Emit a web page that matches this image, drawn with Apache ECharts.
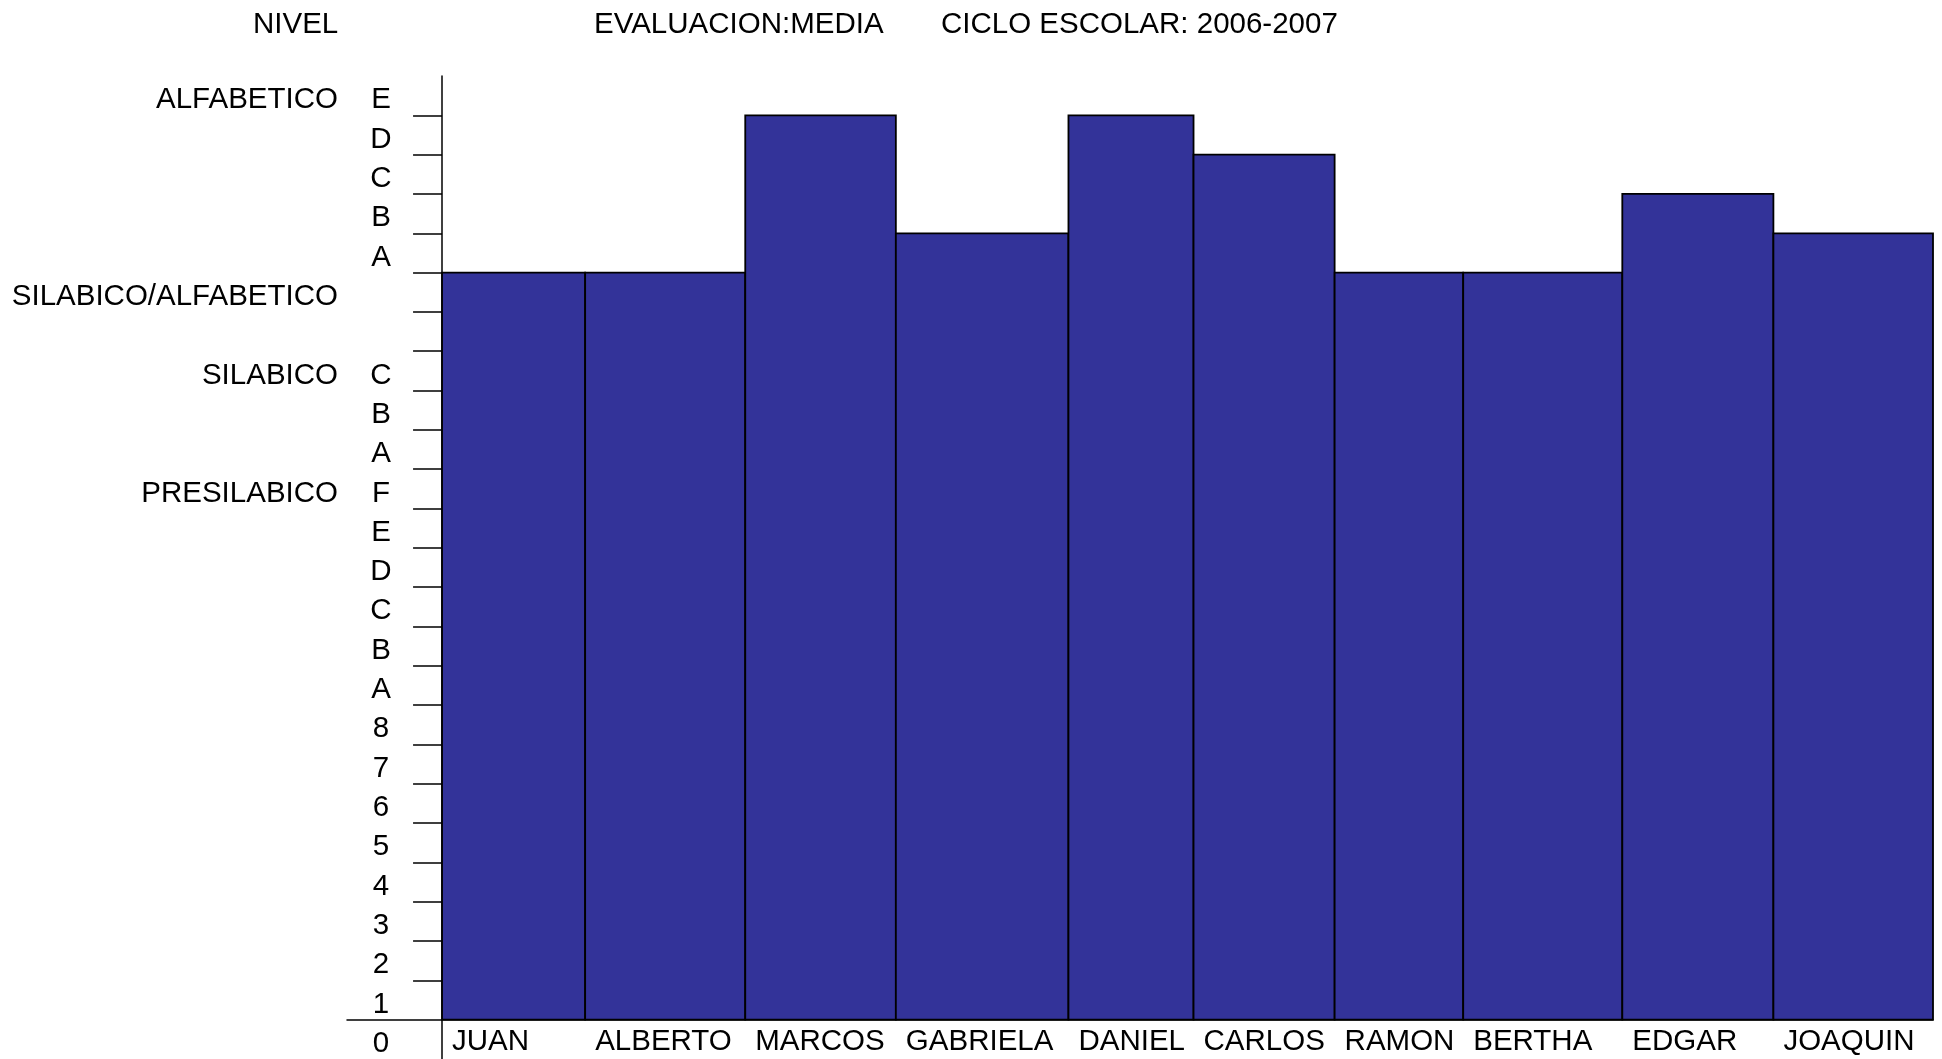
<!DOCTYPE html>
<html><head><meta charset="utf-8">
<script src="https://cdn.jsdelivr.net/npm/echarts@6/dist/echarts.min.js"></script>
<style>html,body{margin:0;padding:0;background:#fff}#c{width:1942px;height:1059px}</style>
</head><body><div id="c"></div>
<script>
// ---- data ----
const students = ['JUAN','ALBERTO','MARCOS','GABRIELA','DANIEL','CARLOS','RAMON','BERTHA','EDGAR','JOAQUIN'];
const levelValues = [19, 19, 23, 20, 23, 22, 19, 19, 21, 20];
const barWidths = [14.3, 16.0, 15.05, 17.25, 12.5, 14.1, 12.85, 15.9, 15.1, 15.95];
// one label per scale band, from band [-1,0] up to band [23,24]
const scaleLabels = ['0','1','2','3','4','5','6','7','8','A','B','C','D','E','F','A','B','C','','','A','B','C','D','E'];
const stageNames = ['PRESILABICO','SILABICO','SILABICO/ALFABETICO','ALFABETICO'];
const stageLevels = [13.5, 16.5, 18.5, 23.5];
const titleTexts = ['NIVEL','EVALUACION:MEDIA','CICLO ESCOLAR: 2006-2007'];

// ---- derived ----
const edges = [0];
barWidths.forEach((w, i) => edges.push(+(edges[i] + w).toFixed(4)));
const barData = students.map((n, i) => [edges[i], edges[i + 1], levelValues[i], n]);
const scaleLabelValues = scaleLabels.map((_, i) => i - 0.5);
const tickValues = [];
for (let v = 1; v <= 23; v++) tickValues.push(v);

const FONT = '"Liberation Sans", Arial, sans-serif';
const FS = 29.5;

const chart = echarts.init(document.getElementById('c'), null, {renderer: 'canvas'});
chart.setOption({
  animation: false,
  backgroundColor: '#ffffff',
  title: [
    {text: titleTexts[0], left: 253, top: 10},
    {text: titleTexts[1], left: 594, top: 10},
    {text: titleTexts[2], left: 941, top: 10}
  ].map(t => Object.assign(t, {padding: 0, textStyle: {fontFamily: FONT, fontSize: FS, fontWeight: 'normal', color: '#000'}})),
  grid: {left: 347, right: 9, top: 76, bottom: 0, containLabel: false, outerBoundsMode: 'none'},
  xAxis: {
    type: 'value', min: -9.5, max: edges[edges.length - 1],
    axisLine: {show: true, onZero: true, lineStyle: {color: '#000', width: 1.5}},
    axisTick: {show: false},
    splitLine: {show: false},
    axisLabel: {
      customValues: edges.slice(0, students.length),
      formatter: v => { let k = 0, d = Infinity; edges.forEach((e, i) => { if (Math.abs(e - v) < d) { d = Math.abs(e - v); k = i; } }); return students[k] || ''; },
      align: 'left', padding: [8, 0, 0, 10], verticalAlign: 'middle', margin: -17,
      fontFamily: FONT, fontSize: FS, color: '#000'
    }
  },
  yAxis: [
    {
      type: 'value', min: -1, max: 24, interval: 1,
      axisLine: {show: true, onZero: true, lineStyle: {color: '#000', width: 1.5}},
      axisTick: {show: true, customValues: tickValues, length: 29, inside: false, lineStyle: {color: '#000', width: 1.5}},
      splitLine: {show: false},
      axisLabel: {
        customValues: scaleLabelValues,
        formatter: v => scaleLabels[Math.round(v + 0.5)] || '',
        align: 'center', margin: -34, verticalAlign: 'top', lineHeight: 9,
        fontFamily: FONT, fontSize: FS, color: '#000'
      }
    },
    {
      type: 'value', min: -1, max: 24, interval: 1, position: 'left',
      axisLine: {show: false, onZero: false},
      axisTick: {show: false},
      splitLine: {show: false},
      axisLabel: {
        customValues: stageLevels,
        formatter: v => { const i = stageLevels.findIndex(s => Math.abs(s - v) < 1e-6); return i >= 0 ? stageNames[i] : ''; },
        align: 'right', margin: 9, verticalAlign: 'top', lineHeight: 9,
        fontFamily: FONT, fontSize: FS, color: '#000'
      }
    }
  ],
  series: [{
    type: 'custom',
    xAxisIndex: 0, yAxisIndex: 0,
    data: barData,
    encode: {x: [0, 1], y: 2},
    renderItem: function (params, api) {
      const p0 = api.coord([api.value(0), 0]);
      const p1 = api.coord([api.value(1), api.value(2)]);
      return {
        type: 'rect',
        shape: {x: p0[0], y: p1[1], width: p1[0] - p0[0], height: p0[1] - p1[1]},
        style: {fill: '#333399', stroke: '#000', lineWidth: 1.8}
      };
    }
  }]
});
</script>
</body></html>
